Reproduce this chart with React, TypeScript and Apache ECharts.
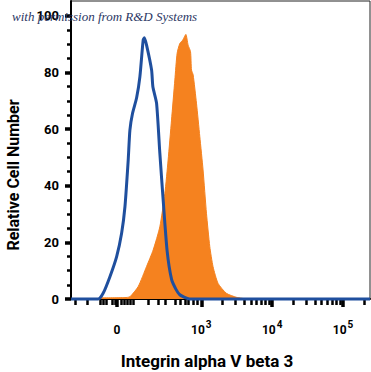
import React, { useEffect, useRef } from "react";
import * as echarts from "echarts";

// x positions are in display decades (logicle-like axis): 10^3 = 3, 10^4 = 4, 10^5 = 5, zero = 1.81
const X_MIN = 1.162;
const X_MAX = 5.38;
const ZERO_POS = 1.81;

const majorXTicks = [ZERO_POS, 3, 4, 5];
const minorXTicksLow = [1.218, 1.387, 1.57, 1.613, 1.655, 1.739, 1.782, 1.866, 1.908, 1.951, 1.993, 2.035, 2.246, 2.387, 2.486, 2.627, 2.697, 2.768, 2.81, 2.88, 2.937];
const logMultipliers = [2, 3, 4, 5, 6, 7, 8, 9];
const logDecades = [3, 4, 5];

const yMajorTicks = [0, 20, 40, 60, 80, 100];
const yMinorTicks = [5, 10, 15, 25, 30, 35, 45, 50, 55, 65, 70, 75, 85, 90, 95];

const isotypeX = [1.162, 1.546, 1.617, 1.711, 1.806, 1.876, 1.923, 1.969, 1.993, 2.031, 2.087, 2.134, 2.18, 2.197, 2.228, 2.299, 2.317, 2.369, 2.415, 2.462, 2.518, 2.58, 2.641, 2.697, 2.792, 2.838, 5.38];
const isotypeY = [0, 0, 2.1, 7.9, 15, 23.2, 32.6, 49.1, 59.7, 65.7, 71, 78.6, 91.5, 92.3, 89.7, 80.9, 75, 69.2, 51.6, 35, 17, 7, 3.5, 1.5, 0.3, 0, 0];

const stainedX = [1.57, 1.923, 1.993, 2.11, 2.228, 2.321, 2.415, 2.486, 2.532, 2.58, 2.627, 2.659, 2.697, 2.739, 2.782, 2.814, 2.848, 2.862, 2.885, 2.932, 2.979, 3.025, 3.073, 3.12, 3.166, 3.237, 3.355, 3.496, 3.637];
const stainedY = [0.4, 0.5, 0.8, 4.4, 11.5, 17.3, 25.5, 37.3, 49.1, 63.2, 77.4, 86.8, 90.3, 91.5, 93.5, 89.7, 87.4, 80.9, 79.2, 69.2, 57.4, 45.6, 30.3, 18.5, 11.4, 5.5, 2, 0.6, 0];

const xTitle = "Integrin alpha V beta 3";
const yTitle = "Relative Cell Number";
const watermark = "with permission from R&D Systems";

const BOLD_FONT = "Roboto, 'Liberation Sans', Arial, sans-serif";

export default function App() {
  const ref = useRef<HTMLDivElement>(null);

  useEffect(() => {
    if (!ref.current) return;
    const chart = echarts.init(ref.current, undefined, { renderer: "svg" });

    const minorX: number[] = [...minorXTicksLow];
    logDecades.forEach((d) => {
      logMultipliers.forEach((m) => {
        const v = d + Math.log10(m);
        if (v < X_MAX) minorX.push(v);
      });
    });

    const toPairs = (xs: number[], ys: number[]) => xs.map((x, i) => [x, ys[i]]);

    const xLabelFormatter = (v: number) => {
      if (Math.abs(v - ZERO_POS) < 0.01) return "{n|0}";
      return `{n|10}{s|${Math.round(v)}}`;
    };

    const baseX = {
      type: "value" as const,
      min: X_MIN,
      max: X_MAX,
      splitLine: { show: false },
      position: "bottom" as const,
    };

    const baseY = {
      type: "value" as const,
      min: 0,
      max: 105.3,
      splitLine: { show: false },
      position: "left" as const,
    };

    chart.setOption({
      animation: false,
      backgroundColor: "#ffffff",
      grid: {
        left: 71,
        right: 1,
        top: 1,
        bottom: 73,
        show: true,
        borderColor: "#222",
        borderWidth: 1,
        containLabel: false,
      },
      xAxis: [
        {
          ...baseX,
          axisLine: { show: true, lineStyle: { color: "#000", width: 2 } },
          axisTick: {
            show: true,
            customValues: majorXTicks,
            length: 8,
            lineStyle: { color: "#000", width: 3.5 },
          },
          axisLabel: {
            show: true,
            customValues: majorXTicks,
            margin: 19,
            formatter: xLabelFormatter,
            rich: {
              n: { fontFamily: BOLD_FONT, fontWeight: "bold", fontSize: 12, color: "#000", padding: [6, 0, 0, 0] },
              s: { fontFamily: BOLD_FONT, fontWeight: "bold", fontSize: 10, color: "#000", padding: [0, 0, 6, 1] },
            },
          },
        },
        {
          ...baseX,
          axisLine: { show: false },
          axisTick: {
            show: true,
            customValues: minorX,
            length: 6,
            lineStyle: { color: "#000", width: 2.5 },
          },
          axisLabel: { show: false },
        },
      ],
      yAxis: [
        {
          ...baseY,
          axisLine: { show: true, lineStyle: { color: "#000", width: 2 } },
          axisTick: {
            show: true,
            customValues: yMajorTicks,
            length: 6,
            lineStyle: { color: "#000", width: 3.5 },
          },
          axisLabel: {
            show: true,
            customValues: yMajorTicks,
            margin: 12,
            fontFamily: BOLD_FONT,
            fontWeight: "bold",
            fontSize: 13,
            color: "#000",
          },
        },
        {
          ...baseY,
          axisLine: { show: false },
          axisTick: {
            show: true,
            customValues: yMinorTicks,
            length: 4,
            lineStyle: { color: "#000", width: 2.5 },
          },
          axisLabel: { show: false },
        },
      ],
      graphic: [
        {
          type: "text",
          x: 207,
          y: 361,
          style: {
            text: xTitle,
            fontFamily: BOLD_FONT,
            fontWeight: "bold",
            fontSize: 17,
            fill: "#000",
            textAlign: "center",
            textVerticalAlign: "middle",
          },
        },
        {
          type: "text",
          x: 13,
          y: 175,
          rotation: Math.PI / 2,
          style: {
            text: yTitle,
            fontFamily: BOLD_FONT,
            fontWeight: "bold",
            fontSize: 16,
            fill: "#000",
            textAlign: "center",
            textVerticalAlign: "middle",
          },
        },
        {
          type: "text",
          x: 12,
          y: 16,
          z: 100,
          style: {
            text: watermark,
            fontFamily: "'Liberation Serif', 'DejaVu Serif', serif",
            fontStyle: "italic",
            fontSize: 13,
            fill: "#2b3764",
            textAlign: "left",
            textVerticalAlign: "middle",
          },
        },
      ],
      series: [
        {
          type: "line",
          data: toPairs(stainedX, stainedY),
          showSymbol: false,
          smooth: 0.2,
          clip: false,
          lineStyle: { color: "#f5821f", width: 1 },
          areaStyle: { color: "#f5821f", opacity: 1 },
          z: 2,
        },
        {
          type: "line",
          data: toPairs(isotypeX, isotypeY),
          showSymbol: false,
          smooth: 0.2,
          clip: false,
          lineStyle: { color: "#1f4f9e", width: 3 },
          z: 3,
        },
      ],
    });

    return () => chart.dispose();
  }, []);

  return <div ref={ref} style={{ width: 371, height: 372, position: "absolute", left: 0, top: 0 }} />;
}
